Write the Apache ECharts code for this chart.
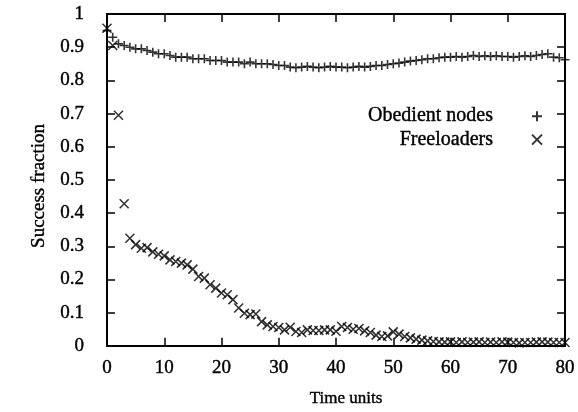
<!DOCTYPE html>
<html>
<head>
<meta charset="utf-8">
<script src="https://cdn.jsdelivr.net/npm/echarts@6/dist/echarts.min.js"></script>
<style>
html,body{margin:0;padding:0;background:#fff;}
#c{width:578px;height:412px;}
</style>
</head>
<body>
<div id="c"></div>
<script>
const time = [];
for (let t = 0; t <= 80; t++) time.push(t);

const obedient = [
 0.950,0.930,0.910,0.905,0.900,0.895,0.895,0.890,0.885,0.880,
 0.880,0.875,0.870,0.870,0.870,0.865,0.865,0.865,0.860,0.860,
 0.860,0.855,0.855,0.855,0.850,0.855,0.850,0.850,0.850,0.848,
 0.845,0.845,0.840,0.838,0.840,0.842,0.840,0.838,0.840,0.842,
 0.840,0.840,0.838,0.840,0.842,0.840,0.842,0.845,0.845,0.848,
 0.850,0.852,0.855,0.858,0.860,0.862,0.865,0.865,0.868,0.870,
 0.870,0.872,0.870,0.872,0.875,0.872,0.874,0.872,0.874,0.872,
 0.872,0.870,0.872,0.874,0.872,0.875,0.878,0.880,0.870,0.868,
 0.862
];

const freeloaders = [
 0.957,0.905,0.695,0.428,0.324,0.305,0.294,0.296,0.283,0.276,
 0.271,0.259,0.254,0.249,0.244,0.231,0.209,0.204,0.184,0.174,
 0.159,0.154,0.139,0.114,0.098,0.094,0.096,0.073,0.063,0.058,
 0.055,0.048,0.056,0.043,0.040,0.048,0.046,0.046,0.048,0.048,
 0.044,0.058,0.055,0.050,0.052,0.045,0.040,0.032,0.028,0.030,
 0.042,0.035,0.028,0.024,0.020,0.017,0.015,0.013,0.012,0.011,
 0.012,0.010,0.012,0.010,0.011,0.012,0.010,0.011,0.010,0.012,
 0.011,0.010,0.009,0.010,0.010,0.011,0.012,0.011,0.010,0.010,
 0.010
];

const seriesNames = ['Obedient nodes', 'Freeloaders'];
const xTitle = 'Time units';
const yTitle = 'Success fraction';

const FONT = '"Liberation Serif", "DejaVu Serif", serif';
const plusPath = 'path://M0,5L10,5M5,0L5,10';
const crossPath = 'path://M0,0L10,10M0,10L10,0';

const chart = echarts.init(document.getElementById('c'), null, {renderer: 'canvas'});

const axisLineStyle = {show: true, onZero: false, lineStyle: {color: '#000', width: 2}};
const tickStyle = {show: true, inside: true, length: 8, lineStyle: {color: '#000', width: 1.5}};
const heavy = {textBorderColor: '#000', textBorderWidth: 0.4};

chart.setOption({
  backgroundColor: '#fff',
  animation: false,
  grid: {left: 107, right: 13, top: 14, bottom: 66},
  legend: {
    orient: 'vertical',
    align: 'right',
    right: 30,
    top: 101,
    itemWidth: 10,
    itemHeight: 10,
    itemGap: 3,
    data: seriesNames,
    textStyle: Object.assign({fontFamily: FONT, fontSize: 20, color: '#000', padding: [0, 34, 0, 0]}, heavy)
  },
  xAxis: [{
    type: 'value', min: 0, max: 80, interval: 10, position: 'bottom',
    axisLine: axisLineStyle, axisTick: tickStyle, splitLine: {show: false},
    axisLabel: Object.assign({fontFamily: FONT, fontSize: 19, color: '#000', margin: 13}, heavy),
    name: xTitle, nameLocation: 'middle', nameGap: 44,
    nameTextStyle: Object.assign({fontFamily: FONT, fontSize: 17, color: '#000', padding: [0, 0, 0, 20]}, heavy)
  }, {
    type: 'value', min: 0, max: 80, interval: 10, position: 'top',
    axisLine: axisLineStyle, axisTick: tickStyle, splitLine: {show: false},
    axisLabel: {show: false}
  }],
  yAxis: [{
    type: 'value', min: 0, max: 1, interval: 0.1, position: 'left',
    axisLine: axisLineStyle, axisTick: tickStyle, splitLine: {show: false},
    axisLabel: Object.assign({fontFamily: FONT, fontSize: 19, color: '#000', margin: 23}, heavy),
    name: yTitle, nameLocation: 'middle', nameGap: 54,
    nameTextStyle: Object.assign({fontFamily: FONT, fontSize: 19, color: '#000', padding: [0, 12, 0, 0]}, heavy)
  }, {
    type: 'value', min: 0, max: 1, interval: 0.1, position: 'right',
    axisLine: axisLineStyle, axisTick: tickStyle, splitLine: {show: false},
    axisLabel: {show: false}
  }],
  series: [{
    name: seriesNames[0], type: 'scatter',
    symbol: plusPath, symbolSize: 9,
    itemStyle: {color: 'rgba(0,0,0,0)', borderColor: '#000', borderWidth: 1.6},
    data: time.map((t, i) => [t, obedient[i]])
  }, {
    name: seriesNames[1], type: 'scatter',
    symbol: crossPath, symbolSize: 9,
    itemStyle: {color: 'rgba(0,0,0,0)', borderColor: '#000', borderWidth: 1.6},
    data: time.map((t, i) => [t, freeloaders[i]])
  }]
});
</script>
</body>
</html>
